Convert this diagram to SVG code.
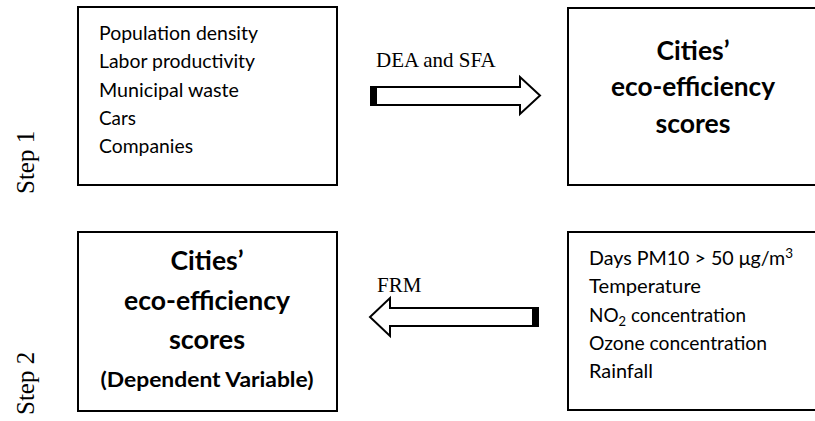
<svg xmlns="http://www.w3.org/2000/svg" width="815" height="421" viewBox="0 0 815 421">
  <style>
    .box { fill: #fff; stroke: #000; stroke-width: 2; }
    .list { font-family: Lato, "Noto Sans", sans-serif; font-size: 19px; fill: #000; }
    .title { font-family: Lato, "Noto Sans", sans-serif; font-weight: 700; font-size: 26px; fill: #000; text-anchor: middle; }
    .note { font-size: 21.5px; }
    .label { font-family: "Liberation Serif", "Times New Roman", serif; font-size: 21px; fill: #000; }
    .step { font-family: "Liberation Serif", "Times New Roman", serif; font-size: 25px; fill: #000; }
    .arrow { fill: #fff; stroke: #000; stroke-width: 2; stroke-linejoin: miter; }
    .tail { fill: #000; }
  </style>

  <rect width="815" height="421" fill="#fff"/>

  <!-- step labels, read bottom to top -->
  <text class="step" x="34" y="194" transform="rotate(-90 34 194)">Step 1</text>
  <text class="step" x="34" y="415" transform="rotate(-90 34 415)">Step 2</text>

  <!-- step 1: input variables -->
  <g id="inputs">
    <rect class="box" x="78" y="7" width="259" height="178"/>
    <text class="list" x="99" y="40" textLength="159" lengthAdjust="spacingAndGlyphs">Population density</text>
    <text class="list" x="99" y="68" textLength="156" lengthAdjust="spacingAndGlyphs">Labor productivity</text>
    <text class="list" x="99" y="96.5" textLength="140" lengthAdjust="spacingAndGlyphs">Municipal waste</text>
    <text class="list" x="99" y="124.5" textLength="37" lengthAdjust="spacingAndGlyphs">Cars</text>
    <text class="list" x="99" y="152.5" textLength="94" lengthAdjust="spacingAndGlyphs">Companies</text>
  </g>

  <!-- step 1: resulting scores -->
  <g id="scores-step1">
    <rect class="box" x="568" y="8" width="260" height="177"/>
    <text class="title" x="693" y="60" textLength="73" lengthAdjust="spacingAndGlyphs">Cities’</text>
    <text class="title" x="693" y="96" textLength="164" lengthAdjust="spacingAndGlyphs">eco-efficiency</text>
    <text class="title" x="693" y="133" textLength="75" lengthAdjust="spacingAndGlyphs">scores</text>
  </g>

  <!-- step 2: scores as dependent variable -->
  <g id="scores-step2">
    <rect class="box" x="78" y="232" width="259" height="179"/>
    <text class="title" x="207" y="270" textLength="73" lengthAdjust="spacingAndGlyphs">Cities’</text>
    <text class="title" x="207" y="310" textLength="166" lengthAdjust="spacingAndGlyphs">eco-efficiency</text>
    <text class="title" x="207" y="349" textLength="76" lengthAdjust="spacingAndGlyphs">scores</text>
    <text class="title note" x="207" y="387" textLength="213" lengthAdjust="spacingAndGlyphs">(Dependent Variable)</text>
  </g>

  <!-- step 2: explanatory variables -->
  <g id="covariates">
    <rect class="box" x="568" y="232" width="260" height="178"/>
    <text class="list" x="589" y="265" textLength="204" lengthAdjust="spacingAndGlyphs">Days PM10 &gt; 50 μg/m<tspan font-size="13" dy="-7">3</tspan></text>
    <text class="list" x="589" y="293" textLength="112" lengthAdjust="spacingAndGlyphs">Temperature</text>
    <text class="list" x="589" y="321.5" textLength="157" lengthAdjust="spacingAndGlyphs">NO<tspan font-size="13" dy="4">2</tspan><tspan dy="-4"> concentration</tspan></text>
    <text class="list" x="589" y="349.5" textLength="178" lengthAdjust="spacingAndGlyphs">Ozone concentration</text>
    <text class="list" x="589" y="377.5" textLength="64" lengthAdjust="spacingAndGlyphs">Rainfall</text>
  </g>

  <!-- block arrows between the steps -->
  <g id="connectors">
    <g id="dea-sfa">
      <path class="arrow" d="M371,87 H520 V77 L540,95.5 L520,114 V105 H371 Z"/>
      <rect class="tail" x="371" y="86" width="6" height="20"/>
      <text class="label" x="376" y="67">DEA and SFA</text>
    </g>
    <g id="frm">
      <path class="arrow" d="M538,308 H390 V298 L370,317 L390,336 V326 H538 Z"/>
      <rect class="tail" x="532" y="307" width="6" height="20"/>
      <text class="label" x="377" y="292">FRM</text>
    </g>
  </g>
</svg>
